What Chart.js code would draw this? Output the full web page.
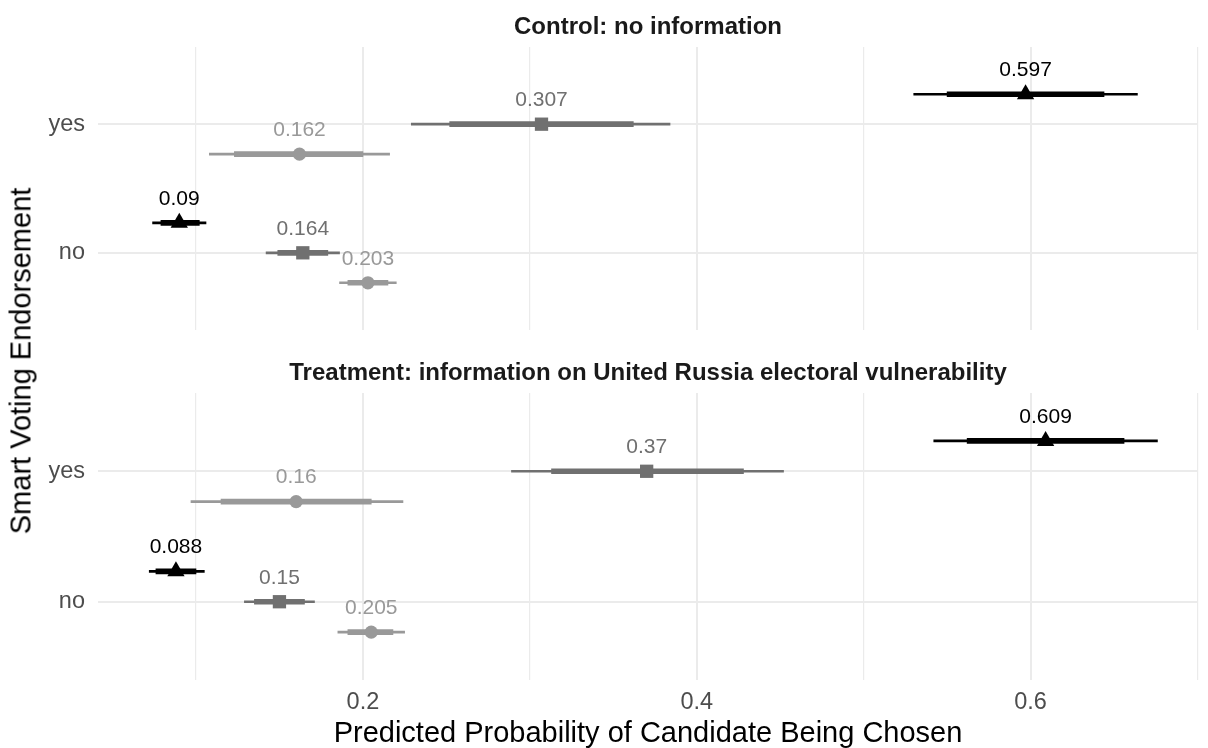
<!DOCTYPE html>
<html>
<head>
<meta charset="utf-8">
<script src="https://cdn.jsdelivr.net/npm/chart.js@4.4.0/dist/chart.umd.min.js"></script>
<style>
 body { margin: 0; background: #fff; }
 #wrap { position: relative; width: 1208px; height: 748px; font-family: "Liberation Sans", Arial, sans-serif; }
 #top { position: absolute; left: 0; top: 0; }
 #bottom { position: absolute; left: 0; top: 340px; }
 #ytitle { position: absolute; left: 21px; top: 361px; transform: translate(-50%, -50%) rotate(-90deg);
   font-size: 29px; white-space: nowrap; color: #000; }
</style>
</head>
<body>
<div id="wrap">
 <canvas id="top" width="1208" height="340"></canvas>
 <canvas id="bottom" width="1208" height="408"></canvas>
 <div id="ytitle">Smart Voting Endorsement</div>
</div>
<script>
// endorsement levels, bottom to top
const levels = ["no", "yes"];
const panelTitles = ["Control: no information",
  "Treatment: information on United Russia electoral vulnerability"];

// x ticks / grid
const xTicks = [0.1, 0.2, 0.3, 0.4, 0.5, 0.6, 0.7];
const xTickLabels = ["", "0.2", "", "0.4", "", "0.6", ""];

// each array: [group][level], groups = triangle, square, circle; levels = no, yes
const controlEst  = [[0.090, 0.597], [0.164, 0.307], [0.203, 0.162]];
const controlLo95 = [[0.074, 0.530], [0.142, 0.229], [0.186, 0.108]];
const controlLo   = [[0.079, 0.550], [0.149, 0.252], [0.191, 0.123]];
const controlHi   = [[0.102, 0.644], [0.179, 0.362], [0.215, 0.200]];
const controlHi95 = [[0.106, 0.664], [0.186, 0.384], [0.220, 0.216]];

const treatEst  = [[0.088, 0.609], [0.150, 0.370], [0.205, 0.160]];
const treatLo95 = [[0.072, 0.542], [0.129, 0.289], [0.185, 0.097]];
const treatLo   = [[0.076, 0.562], [0.135, 0.313], [0.191, 0.115]];
const treatHi   = [[0.100, 0.656], [0.165, 0.428], [0.218, 0.205]];
const treatHi95 = [[0.105, 0.676], [0.171, 0.452], [0.225, 0.224]];

const styles = [
  { color: "#000000", shape: "triangle", r: 10 },
  { color: "#707070", shape: "rect", r: 9.4 },
  { color: "#999999", shape: "circle", r: 6.6 },
];
const dodge = [0.233, 0, -0.233];
const FONT = '"Liberation Sans", Arial, sans-serif';

Chart.defaults.font.family = FONT;

const fmt = v => String(Number(v.toFixed(3)));

// value text above each point
const valueLabels = {
  id: "valueLabels",
  afterDatasetsDraw(chart) {
    const ctx = chart.ctx;
    chart.data.datasets.forEach((ds, i) => {
      if (!ds.valueText) return;
      chart.getDatasetMeta(i).data.forEach((pt, j) => {
        ctx.save();
        ctx.font = "21px " + FONT;
        ctx.fillStyle = ds.labelColor;
        ctx.textAlign = "center";
        ctx.textBaseline = "middle";
        ctx.fillText(ds.valueText[j], pt.x, pt.y - 24);
        ctx.restore();
      });
    });
  },
};

function buildPanel(id, title, est, lo95, lo, hi, hi95, showX, titlePad) {
  const datasets = [];
  est.forEach((vals, g) => {
    const s = styles[g];
    const pos = levels.map((_, i) => i + 1 + dodge[g]);
    datasets.push({
      type: "scatter",
      data: vals.map((v, i) => ({ x: v, y: pos[i] })),
      pointStyle: s.shape, pointRadius: s.r, pointHoverRadius: s.r,
      backgroundColor: s.color, borderWidth: 0, order: 0,
      valueText: vals.map(fmt), labelColor: s.color,
    });
    datasets.push({
      type: "bar",
      data: vals.map((v, i) => ({ y: pos[i], x: [lo[g][i], hi[g][i]] })),
      backgroundColor: s.color, barThickness: 5, grouped: false, borderWidth: 0, order: 1,
    });
    datasets.push({
      type: "bar",
      data: vals.map((v, i) => ({ y: pos[i], x: [lo95[g][i], hi95[g][i]] })),
      backgroundColor: s.color, barThickness: 2, grouped: false, borderWidth: 0, order: 2,
    });
  });

  new Chart(document.getElementById(id), {
    type: "bar",
    data: { datasets },
    plugins: [valueLabels],
    options: {
      responsive: false,
      animation: false,
      indexAxis: "y",
      layout: { padding: { left: 0, right: 5, top: 0, bottom: showX ? 0 : 5 } },
      plugins: {
        legend: { display: false },
        tooltip: { enabled: false },
        title: {
          display: true, text: title, fullSize: false,
          font: { size: 24, weight: "bold" }, color: "#1a1a1a",
          padding: titlePad,
        },
      },
      scales: {
        x: {
          type: "linear", min: 0.0413, max: 0.7003,
          afterBuildTicks: s => { s.ticks = xTicks.map(v => ({ value: v })); },
          afterFit: s => { s.height = showX ? 68 : 0; },
          grid: { color: "#ebebeb", lineWidth: c => (xTickLabels[c.index] ? 2 : 1.2), drawTicks: false },
          border: { display: false },
          ticks: {
            display: showX, padding: 8, color: "#4d4d4d", font: { size: 23.5 },
            maxRotation: 0, autoSkip: false,
            callback: (v, i) => xTickLabels[i],
          },
          title: {
            display: showX, text: "Predicted Probability of Candidate Being Chosen",
            color: "#000", font: { size: 29, lineHeight: 1 }, padding: { top: 0, bottom: 0 },
          },
        },
        y: {
          type: "linear", min: 0.4, max: 2.6, offset: false,
          afterBuildTicks: s => { s.ticks = levels.map((_, i) => ({ value: i + 1 })); },
          afterFit: s => { s.width = 98; s.paddingTop = 0; s.paddingBottom = 0; },
          grid: { color: "#ebebeb", lineWidth: 2, drawTicks: false, offset: false },
          border: { display: false },
          ticks: {
            padding: 13, color: "#4d4d4d", font: { size: 23.5 },
            callback: v => levels[Math.round(v) - 1],
          },
        },
      },
    },
  });
}

buildPanel("top", panelTitles[0], controlEst, controlLo95, controlLo, controlHi, controlHi95,
  false, { top: 12.6, bottom: 5.6 });
buildPanel("bottom", panelTitles[1], treatEst, treatLo95, treatLo, treatHi, treatHi95,
  true, { top: 18.6, bottom: 5.6 });
</script>
</body>
</html>
